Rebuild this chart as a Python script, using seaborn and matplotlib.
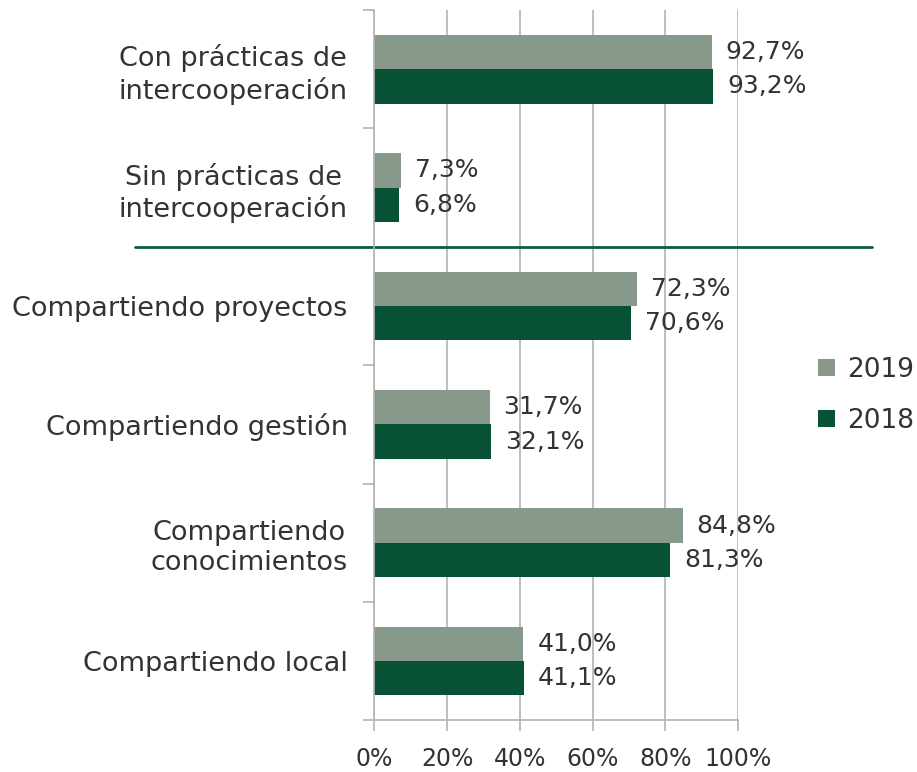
import pandas as pd
import numpy as np
import matplotlib.pyplot as plt
import seaborn as sns

# categories, top to bottom
categories = ["Con prácticas de\nintercooperación", "Sin prácticas de\nintercooperación",
              "Compartiendo proyectos", "Compartiendo gestión",
              "Compartiendo\nconocimientos", "Compartiendo local"]
years = ["2019", "2018"]
values_2019 = [92.7, 7.3, 72.3, 31.7, 84.8, 41.0]
values_2018 = [93.2, 6.8, 70.6, 32.1, 81.3, 41.1]
x_ticks = [0, 20, 40, 60, 80, 100]

df = pd.DataFrame({
    'categoria': categories * 2,
    'year': ["2019"] * len(categories) + ["2018"] * len(categories),
    'valor': values_2019 + values_2018,
})

sns.set_style('white')
plt.rcParams['font.family'] = ['DejaVu Sans']
text_color = '#333333'
grid_color = '#b3b3b3'

fig = plt.figure(figsize=(9.17, 7.72), dpi=100)
ax = fig.add_axes([0.408, 0.067, 0.397, 0.92])

sns.barplot(data=df, y='categoria', x='valor', hue='year', hue_order=years,
            palette={'2019': '#87998B', '2018': '#075235'},
            orient='h', width=0.58, saturation=1, linewidth=0, ax=ax, legend=True)

# value labels with decimal comma
for cont in ax.containers:
    labels = [f"{w:.1f}%".replace('.', ',') for w in cont.datavalues]
    ax.bar_label(cont, labels=labels, padding=10, fontsize=18, color=text_color)

ax.set_xlim(0, 100)
ax.set_ylim(len(categories) - 0.5, -0.5)
ax.set_xticks(x_ticks)
ax.set_xticklabels([f"{t}%" for t in x_ticks], fontsize=17, color=text_color)
ax.set_yticks(np.arange(len(categories)))
ax.set_yticklabels(categories, fontsize=19.5, color=text_color, multialignment='center')
ax.set_xlabel('')
ax.set_ylabel('')

# y ticks at category boundaries
ax.set_yticks(np.arange(len(categories) + 1) - 0.5, minor=True)
ax.tick_params(axis='y', which='major', left=False, length=0, pad=19)
ax.tick_params(axis='y', which='minor', left=True, length=8, color=grid_color, width=1.2, direction='out')
ax.tick_params(axis='x', bottom=True, length=8, color=grid_color, width=1.2, direction='out', pad=11)

ax.xaxis.grid(True, color=grid_color, linewidth=1.2)
ax.set_axisbelow(True)
for side in ['top', 'right']:
    ax.spines[side].set_visible(False)
for side in ['left', 'bottom']:
    ax.spines[side].set_color(grid_color)
    ax.spines[side].set_linewidth(1.2)

# separator line between groups
ax.plot([-0.657, 1.368], [1.5, 1.5], transform=ax.get_yaxis_transform(),
        color='#0B5E3C', linewidth=2, clip_on=False)

leg = ax.legend(loc='center left', bbox_to_anchor=(0.866, 0.488), bbox_transform=fig.transFigure,
                frameon=False, fontsize=19, handlelength=0.65, handleheight=0.65,
                handletextpad=0.45, labelspacing=0.95)
for t in leg.get_texts():
    t.set_color(text_color)

fig.savefig('out.png', dpi=100)
